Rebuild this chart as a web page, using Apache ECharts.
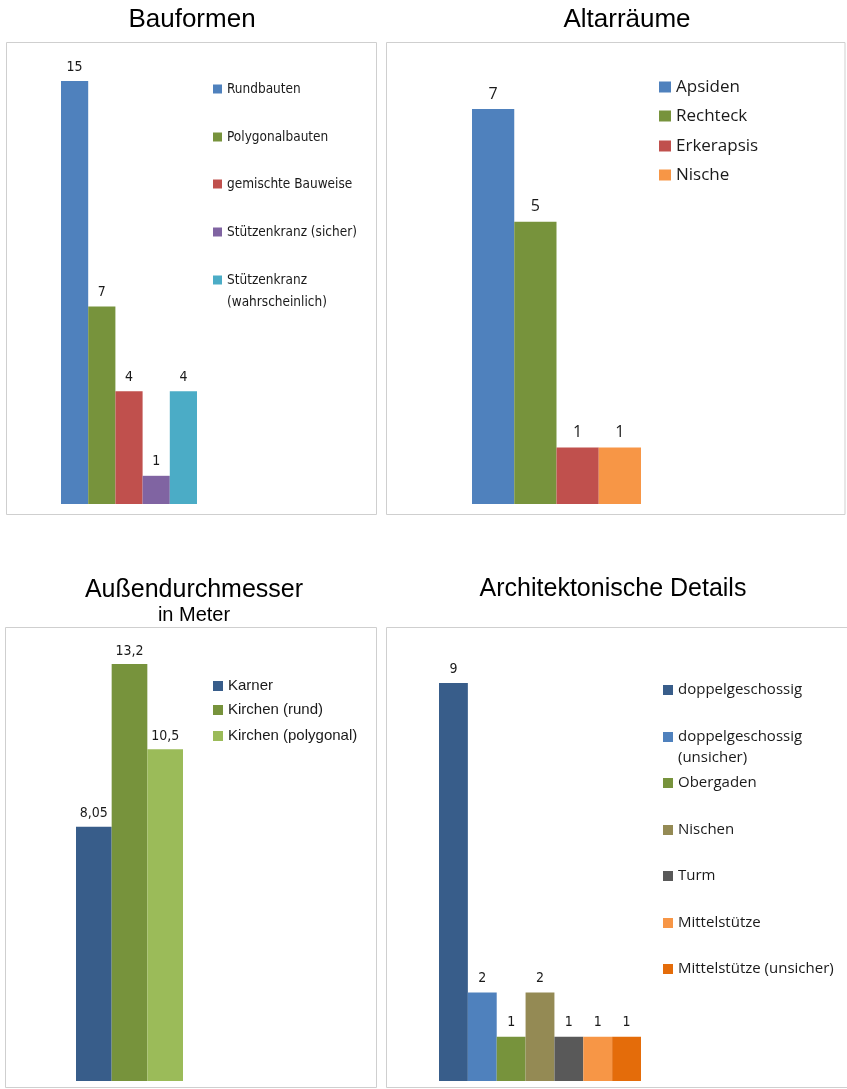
<!DOCTYPE html>
<html><head><meta charset="utf-8">
<script src="https://cdn.jsdelivr.net/npm/echarts@6/dist/echarts.min.js"></script>
<style>html,body{margin:0;padding:0;background:#fff}#c{width:847px;height:1089px}</style>
</head><body><div id="c"></div>
<script>
// ---- data ----
const bauformenNames = ['Rundbauten', 'Polygonalbauten', 'gemischte Bauweise', 'Stützenkranz (sicher)', 'Stützenkranz (wahrscheinlich)'];
const bauformenValues = [15, 7, 4, 1, 4];
const altarNames = ['Apsiden', 'Rechteck', 'Erkerapsis', 'Nische'];
const altarValues = [7, 5, 1, 1];
const durchmesserNames = ['Karner', 'Kirchen (rund)', 'Kirchen (polygonal)'];
const durchmesserValues = [8.05, 13.2, 10.5];
const detailNames = ['doppelgeschossig', 'doppelgeschossig (unsicher)', 'Obergaden', 'Nischen', 'Turm', 'Mittelstütze', 'Mittelstütze (unsicher)'];
const detailValues = [9, 2, 1, 2, 1, 1, 1];
const titles = ['Bauformen', 'Altarräume', 'Außendurchmesser', 'Architektonische Details'];
const subtitle3 = 'in Meter';
const wrappedLegend = {
  'Stützenkranz (wahrscheinlich)': 'Stützenkranz\n(wahrscheinlich)',
  'doppelgeschossig (unsicher)': 'doppelgeschossig\n(unsicher)'
};

// ---- styles / layout ----
const NARROW = "'Liberation Sans Narrow', 'DejaVu Sans Condensed', sans-serif";
const OPEN = "'Open Sans', sans-serif";
const ARIAL = "'Liberation Sans', Arial, sans-serif";
const panels = [
  { names: bauformenNames, values: bauformenValues,
    colors: ['#4F81BD', '#77933C', '#C0504D', '#8064A2', '#4BACC6'],
    grid: { left: 61, top: 81, width: 136, height: 423 },
    label: { font: NARROW, size: 14, dist: 7 },
    legend: { left: 213, ys: [89, 137, 184, 232, 280], iw: 9, ih: 9, font: NARROW, size: 13.5, lh: 22 } },
  { names: altarNames, values: altarValues,
    colors: ['#4F81BD', '#77933C', '#C0504D', '#F79646'],
    grid: { left: 472, top: 109, width: 169, height: 395 },
    label: { font: OPEN, size: 16, dist: 7 },
    legend: { left: 659, ys: [87, 116, 146, 175], iw: 12, ih: 11, font: OPEN, size: 17, lh: 24 } },
  { names: durchmesserNames, values: durchmesserValues,
    colors: ['#385D8A', '#77933C', '#9BBB59'],
    grid: { left: 76, top: 664, width: 107, height: 417 },
    label: { font: NARROW, size: 14, dist: 6 },
    legend: { left: 213, ys: [686, 710, 736], iw: 10, ih: 10, font: ARIAL, size: 15, lh: 20 } },
  { names: detailNames, values: detailValues,
    colors: ['#385D8A', '#4F81BD', '#77933C', '#948A54', '#595959', '#F79646', '#E46C0A'],
    grid: { left: 439, top: 683, width: 202, height: 398 },
    label: { font: NARROW, size: 14, dist: 7 },
    legend: { left: 663, ys: [690, 737, 783, 830, 876, 923, 969], iw: 10, ih: 10, font: OPEN, size: 15, lh: 21 } }
];

const grids = [], xAxes = [], yAxes = [], series = [], legends = [];
panels.forEach((p, i) => {
  grids.push(Object.assign({ containLabel: false }, p.grid));
  xAxes.push({ type: 'category', gridIndex: i, data: [''], show: false });
  yAxes.push({ type: 'value', gridIndex: i, min: 0, max: 'dataMax', show: false });
  p.names.forEach((name, j) => {
    series.push({
      type: 'bar', name: name, xAxisIndex: i, yAxisIndex: i,
      data: [p.values[j]],
      barGap: '0%', barCategoryGap: '0%',
      itemStyle: { color: p.colors[j] },
      label: { show: true, position: 'top', distance: p.label.dist,
        fontFamily: p.label.font, fontSize: p.label.size, color: '#1a1a1a',
        formatter: (q) => String(q.value).replace('.', ',') },
      emphasis: { disabled: true }
    });
    const lg = p.legend;
    const wrapped = wrappedLegend[name];
    // wrapped labels: leading empty line so the first text line sits level with the icon
    const label = wrapped ? '\n' + wrapped : name;
    const lines = label.split('\n').length;
    legends.push({
      data: [name], orient: 'vertical', left: lg.left,
      top: lg.ys[j] - lines * lg.lh / 2,
      padding: 0, icon: 'rect', itemWidth: lg.iw, itemHeight: lg.ih,
      selectedMode: false,
      formatter: () => label,
      textStyle: { fontFamily: lg.font, fontSize: lg.size, color: '#1a1a1a', lineHeight: lg.lh }
    });
  });
});

const tStyle = (size) => ({ fontFamily: ARIAL, fontSize: size, fontWeight: 'normal', color: '#000' });
const option = {
  animation: false,
  backgroundColor: '#fff',
  title: [
    { text: titles[0], left: 192, top: 20, textAlign: 'center', textVerticalAlign: 'middle', padding: 0, textStyle: tStyle(26) },
    { text: titles[1], left: 627, top: 20, textAlign: 'center', textVerticalAlign: 'middle', padding: 0, textStyle: tStyle(26) },
    { text: titles[2], left: 194, top: 590, textAlign: 'center', textVerticalAlign: 'middle', padding: 0, textStyle: tStyle(25) },
    { text: subtitle3, left: 194, top: 615, textAlign: 'center', textVerticalAlign: 'middle', padding: 0, textStyle: tStyle(20) },
    { text: titles[3], left: 613, top: 589, textAlign: 'center', textVerticalAlign: 'middle', padding: 0, textStyle: tStyle(25) }
  ],
  graphic: [
    { type: 'rect', silent: true, shape: { x: 6.5, y: 42.5, width: 370, height: 472 }, style: { fill: 'none', stroke: '#cfcfcf', lineWidth: 1 } },
    { type: 'rect', silent: true, shape: { x: 386.5, y: 42.5, width: 458.5, height: 472 }, style: { fill: 'none', stroke: '#cfcfcf', lineWidth: 1 } },
    { type: 'rect', silent: true, shape: { x: 5.5, y: 627.5, width: 371, height: 460 }, style: { fill: 'none', stroke: '#cfcfcf', lineWidth: 1 } },
    { type: 'rect', silent: true, shape: { x: 386.5, y: 627.5, width: 470, height: 460 }, style: { fill: 'none', stroke: '#cfcfcf', lineWidth: 1 } }
  ],
  grid: grids, xAxis: xAxes, yAxis: yAxes, legend: legends, series: series
};
const chart = echarts.init(document.getElementById('c'), null, { renderer: 'canvas' });
chart.setOption(option);
</script>
</body></html>
